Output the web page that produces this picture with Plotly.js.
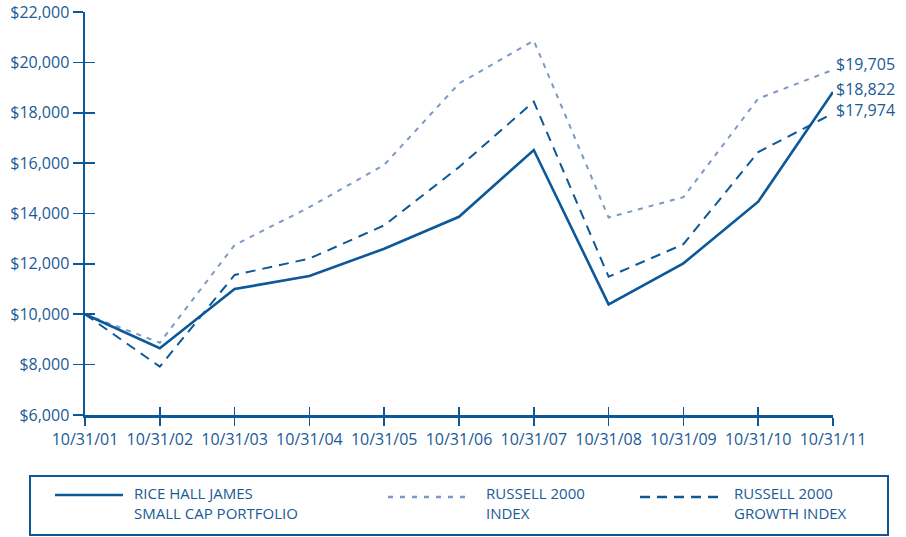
<!DOCTYPE html>
<html>
<head>
<meta charset="utf-8">
<script src="https://cdn.plot.ly/plotly-3.0.1.min.js"></script>
<style>html,body{margin:0;padding:0;background:#fff;}#chart{width:906px;height:537px;}</style>
</head>
<body>
<div id="chart"></div>
<script>
// ---- data ----
const dates = ['10/31/01','10/31/02','10/31/03','10/31/04','10/31/05','10/31/06','10/31/07','10/31/08','10/31/09','10/31/10','10/31/11'];
const riceHallJames = [10000, 8650, 11000, 11520, 12600, 13870, 16520, 10390, 12020, 14470, 18822];
const russell2000 = [10000, 8870, 12750, 14250, 15930, 19160, 20860, 13840, 14650, 18560, 19705];
const russell2000Growth = [10000, 7920, 11560, 12210, 13530, 15840, 18440, 11490, 12780, 16440, 17974];
const seriesNames = ['RICE HALL JAMES<br>SMALL CAP PORTFOLIO', 'RUSSELL 2000<br>INDEX', 'RUSSELL 2000<br>GROWTH INDEX'];
const yTicks = [6000, 8000, 10000, 12000, 14000, 16000, 18000, 20000, 22000];

// ---- styles ----
const DARK = '#0c5898';
const LIGHT = '#7b98c7';
const TEXT = '#1a5a96';
const FONT = 'Open Sans, Noto Sans, sans-serif';

const W = 906, H = 537;
const M = {l: 85, r: 73, t: 12, b: 122};
const pw = W - M.l - M.r, ph = H - M.t - M.b;
const px2x = p => (p - M.l) / pw;
const py2y = p => (H - M.b - p) / ph;

const traces = [
  {x: dates, y: russell2000, type: 'scatter', mode: 'lines', name: seriesNames[1],
   line: {color: LIGHT, width: 2, dash: '5px,6px'}, hoverinfo: 'skip'},
  {x: dates, y: russell2000Growth, type: 'scatter', mode: 'lines', name: seriesNames[2],
   line: {color: DARK, width: 2, dash: '10px,7px'}, hoverinfo: 'skip'},
  {x: dates, y: riceHallJames, type: 'scatter', mode: 'lines', name: seriesNames[0],
   line: {color: DARK, width: 2.6}, hoverinfo: 'skip'},
  {x: [], y: [], xaxis: 'x2', yaxis: 'y2', type: 'scatter', mode: 'lines', hoverinfo: 'skip'}
];

const fmt = v => '$' + v.toLocaleString('en-US');
const last = dates.length - 1;
const endLabels = [
  {v: russell2000[last], ys: 6},
  {v: riceHallJames[last], ys: 3},
  {v: russell2000Growth[last], ys: 3}
].map(o => ({x: dates[last], y: o.v, xref: 'x', yref: 'y', text: fmt(o.v), showarrow: false,
  xanchor: 'left', yanchor: 'middle', xshift: 1, yshift: o.ys, font: {family: FONT, size: 16, color: TEXT}}));

// custom legend (paper coordinates from pixel helpers)
const legendItems = [
  {x0: 55, x1: 123, y: 495, tx: 132, color: DARK, width: 2.6, dash: 'solid', name: seriesNames[0]},
  {x0: 388, x1: 470, y: 497, tx: 484, color: LIGHT, width: 2.5, dash: '5px,7px', name: seriesNames[1]},
  {x0: 640, x1: 725, y: 497, tx: 732, color: DARK, width: 2.5, dash: '10px,7px', name: seriesNames[2]}
];
const shapes = [
  {type: 'rect', xref: 'paper', yref: 'paper', x0: px2x(30), x1: px2x(888), y0: py2y(476), y1: py2y(535),
   line: {color: DARK, width: 2}, fillcolor: 'rgba(0,0,0,0)'}
].concat(legendItems.map(it => ({type: 'line', xref: 'paper', yref: 'paper',
   x0: px2x(it.x0), x1: px2x(it.x1), y0: py2y(it.y), y1: py2y(it.y),
   line: {color: it.color, width: it.width, dash: it.dash}})));
const legendTexts = legendItems.map(it => ({xref: 'paper', yref: 'paper', x: px2x(it.tx), y: py2y(503),
   text: it.name, showarrow: false, xanchor: 'left', yanchor: 'middle', align: 'left',
   font: {family: FONT, size: 15, color: TEXT}}));

const axisCommon = {showgrid: false, zeroline: false, linecolor: DARK, linewidth: 2.5,
  tickcolor: DARK, tickwidth: 1.6, fixedrange: true};

const layout = {
  width: W, height: H, margin: M, paper_bgcolor: '#fff', plot_bgcolor: '#fff',
  showlegend: false,
  font: {family: FONT, color: TEXT},
  xaxis: Object.assign({}, axisCommon, {type: 'category', categoryarray: dates, range: [0, last],
    showline: true, ticks: 'outside', ticklen: 8, tickfont: {family: FONT, size: 16, color: TEXT}}),
  xaxis2: Object.assign({}, axisCommon, {type: 'category', categoryarray: dates, range: [0, last],
    overlaying: 'x', anchor: 'y', side: 'bottom', showline: false, ticks: 'inside', ticklen: 8,
    showticklabels: false, tickvals: dates}),
  yaxis: Object.assign({}, axisCommon, {range: [yTicks[0], yTicks[yTicks.length - 1]], tickvals: yTicks,
    tickformat: '$,.0f', showline: true, ticks: 'outside', ticklen: 10, tickfont: {family: FONT, size: 16, color: TEXT}}),
  yaxis2: Object.assign({}, axisCommon, {range: [yTicks[0], yTicks[yTicks.length - 1]], tickvals: yTicks,
    overlaying: 'y', anchor: 'x', side: 'left', showline: false, ticks: 'inside', ticklen: 10, showticklabels: false}),
  shapes: shapes,
  annotations: endLabels.concat(legendTexts)
};

Plotly.newPlot('chart', traces, layout, {staticPlot: true, displayModeBar: false});
</script>
</body>
</html>
